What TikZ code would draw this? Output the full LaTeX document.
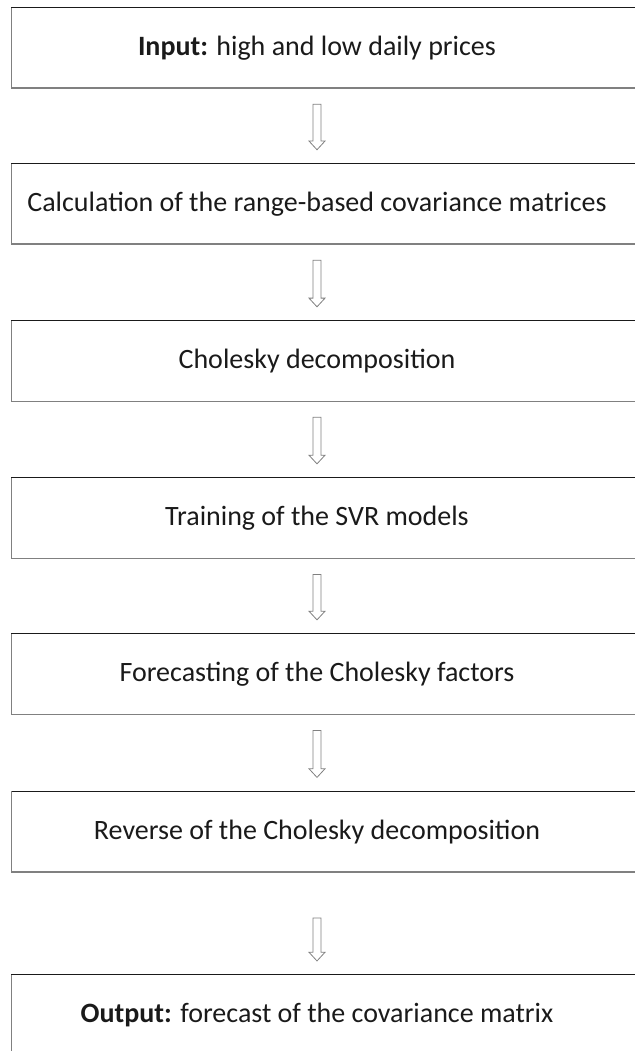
\documentclass[tikz,border=0pt]{standalone}
\usepackage{fontspec}
\setmainfont{Carlito}
\usetikzlibrary{positioning,calc}
\definecolor{bk90}{HTML}{1A1A1A}
\definecolor{bk50}{HTML}{808080}
\tikzset{
  stepbox/.style={
    rectangle, draw=none, minimum width=458pt, minimum height=60pt,
    font=\fontsize{21}{25}\selectfont, text=bk90, align=center,
    inner sep=0pt
  },
  topedge/.style={draw=bk90, line width=0.8pt},
  sideedge/.style={draw=bk50, line width=1.2pt},
  hollowarrow/.style={
    draw=bk50, line width=0.6pt, line join=miter,
    to path={
      ($(\tikztostart.south)+(-3pt,-#1)$)
      -- ($(\tikztotarget.north)+(-3pt,17pt)$)
      -- ++(-3pt,0pt)
      -- ($(\tikztotarget.north)+(0pt,10.5pt)$)
      -- ++(6pt,6.5pt)
      -- ++(-3pt,0pt)
      -- ($(\tikztostart.south)+(3pt,-#1)$)
      -- cycle
    }
  },
  hollowarrow/.default=12pt,
}
\begin{document}
\begin{tikzpicture}
  \useasboundingbox (0,0) rectangle (476.25pt,-788.25pt);
  \node[stepbox] at (237.75pt,-36pt) (inp) {\textbf{Input:} high and low daily prices};
  \node[stepbox, below=56.6pt of inp] (calc) {Calculation of the range-based covariance matrices};
  \node[stepbox, below=57.4pt of calc] (chol) {Cholesky decomposition};
  \node[stepbox, below=57.4pt of chol] (train) {Training of the SVR models};
  \node[stepbox, below=56.6pt of train] (fcst) {Forecasting of the Cholesky factors};
  \node[stepbox, below=57.75pt of fcst] (rev) {Reverse of the Cholesky decomposition};
  \node[stepbox, below=77.25pt of rev] (outp) {\textbf{Output:} forecast of the covariance matrix};
  % open-ended boxes, cut at the right margin
  \foreach \n in {inp,calc,chol,train,fcst,rev,outp} {
    \draw[topedge] (\n.north west) -- ([xshift=30pt]\n.north east);
    \draw[sideedge] (\n.north west) -- (\n.south west) -- ([xshift=30pt]\n.south east);
  }
  \foreach \a/\b in {inp/calc,calc/chol,chol/train,train/fcst,fcst/rev}
    \draw[hollowarrow] (\a) to (\b);
  \draw[hollowarrow=34.5pt] (rev) to (outp);
\end{tikzpicture}
\end{document}
